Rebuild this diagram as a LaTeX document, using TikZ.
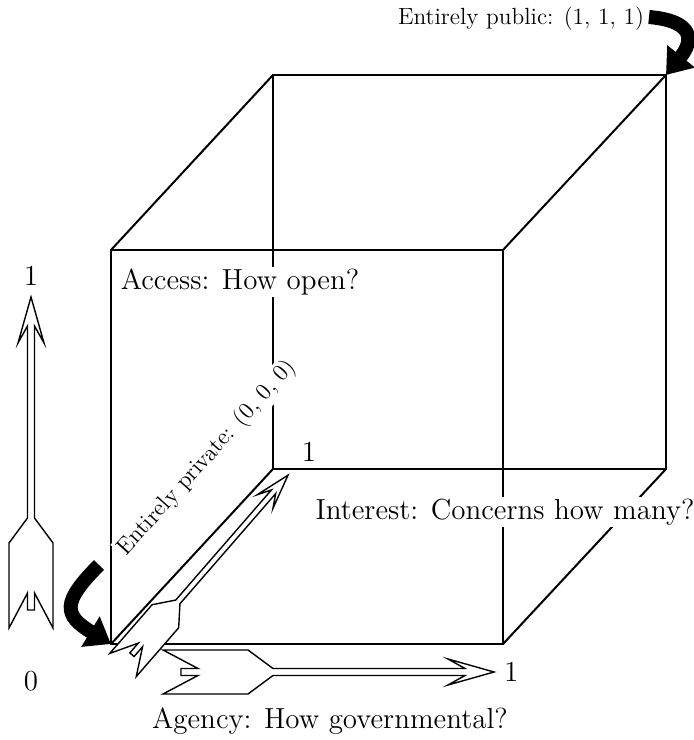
\documentclass[tikz,border=0pt]{standalone}
\usepackage{tikz}
\usetikzlibrary{arrows.meta, positioning}

\tikzset{
    pics/quill/.style={code={
        \draw[fill=white, line width=0.7pt, line join=miter]
            (331,0) -- (285,13) -- (302,3.5) -- (110,3.5) -- (85,22) -- (0,22)
            -- (35,3.5) -- (18,3.5) -- (18,-3.5) -- (35,-3.5) -- (0,-22)
            -- (85,-22) -- (110,-3.5) -- (302,-3.5) -- (285,-13) -- cycle;
    }}
}

\begin{document}
\begin{tikzpicture}[x=0.5pt, y=0.5pt, line width=1pt,
    lbl/.style={font=\fontsize{14.5}{17}\selectfont, inner sep=1pt},
    note/.style={font=\fontsize{11.7}{14}\selectfont, inner sep=1pt},
    bent/.style={line width=7pt, -{Triangle[length=12pt, width=17pt]}}]
    \useasboundingbox (0,0) rectangle (694,740);

    % cube corners
    \coordinate (f1) at (111,96);
    \coordinate (f2) at (503,96);
    \coordinate (f3) at (503,490);
    \coordinate (f4) at (111,490);
    \coordinate (b1) at (273,271);
    \coordinate (b2) at (666,271);
    \coordinate (b3) at (666,665);
    \coordinate (b4) at (273,665);

    \draw (f1) -- (f2) -- (f3) -- (f4) -- cycle;
    \draw (b1) -- (b2) -- (b3) -- (b4) -- cycle;
    \draw (f1) -- (b1) (f2) -- (b2) (f3) -- (b3) (f4) -- (b4);

    % the three axes
    \coordinate (v0) at (31,112);
    \coordinate (v1) at (31,443);
    \coordinate (h0) at (163,68);
    \coordinate (h1) at (495,68);
    \coordinate (d0) at (123,75);
    \pic[rotate=90] at (v0) {quill};
    \pic at (h0) {quill};
    \pic[rotate=49, xscale=0.76, yscale=0.8] at (d0) {quill};

    \node[lbl] (v1lbl) [above=4pt of v1] {1};
    \node[lbl] (v0lbl) [below=20pt of v0] {0};
    \node[lbl] (h1lbl) [right=3pt of h1] {1};
    \node[lbl] (d1lbl) at (309,288) {1};

    \node[lbl, fill=white] (access) at (240,458) {Access: How open?};
    \node[lbl, fill=white] (interest) at (505,228) {Interest: Concerns how many?};
    \node[lbl] (agency) at (330,19) {Agency: How governmental?};
    \node[note, fill=white, rotate=48] (private) at (207,282) {Entirely private: (0, 0, 0)};
    \node[note] (public) at (521,721) {Entirely public: (1, 1, 1)};

    % corner pointers
    \coordinate (pub) at (649,723);
    \coordinate (priv) at (99,175);
    \draw[bent] (pub) to[out=-5, in=51, looseness=1.9] (b3);
    \draw[bent] (priv) .. controls (62,138) and (63,125) .. (f1);
\end{tikzpicture}
\end{document}
